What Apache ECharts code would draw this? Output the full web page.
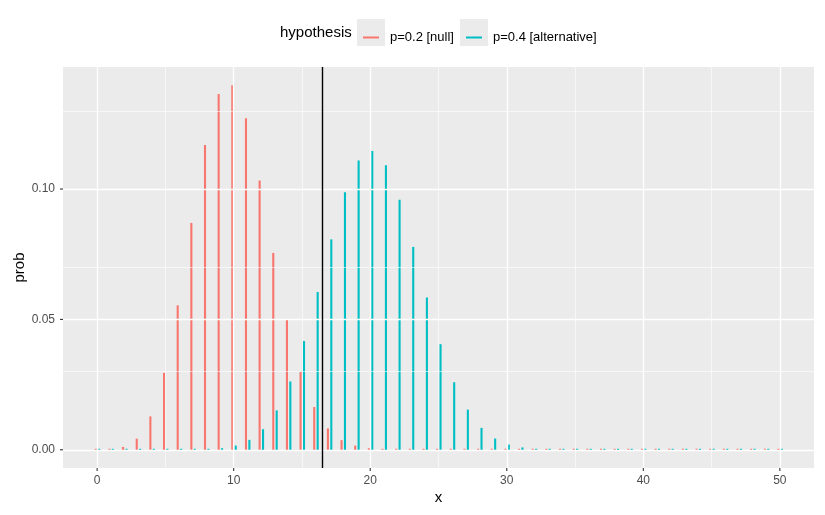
<!DOCTYPE html>
<html>
<head>
<meta charset="utf-8">
<script src="https://cdn.jsdelivr.net/npm/echarts@6/dist/echarts.min.js"></script>
<style>
html,body{margin:0;padding:0;background:#fff;}
#chart{width:825px;height:515px;}
</style>
</head>
<body>
<div id="chart"></div>
<script>
// ---- data ----
const xs = [0,1,2,3,4,5,6,7,8,9,10,11,12,13,14,15,16,17,18,19,20,21,22,23,24,25,26,27,28,29,30,31,32,33,34,35,36,37,38,39,40,41,42,43,44,45,46,47,48,49,50];
const probNull = [0.0000143,0.000178,0.00109,0.00428,0.0128,0.0295,0.0554,0.0870,0.1169,0.1364,0.1398,0.1271,0.1033,0.0755,0.0499,0.0299,0.0164,0.0082,0.0037,0.0016,0.0006,0.0002,0.00007,0.00002,0,0,0,0,0,0,0,0,0,0,0,0,0,0,0,0,0,0,0,0,0,0,0,0,0,0,0];
const probAlt = [0,0,0,0,0,0,0,0.00007,0.0002,0.0006,0.0016,0.0038,0.0079,0.0151,0.0262,0.0417,0.0605,0.0807,0.0988,0.1109,0.1146,0.1091,0.0959,0.0778,0.0584,0.0405,0.0259,0.0154,0.0084,0.0043,0.0020,0.0009,0.0003,0.0001,0.00004,0,0,0,0,0,0,0,0,0,0,0,0,0,0,0,0];
const seriesNames = ['p=0.2 [null]', 'p=0.4 [alternative]'];
const cutoff = 16.5;
const xTicks = [0,10,20,30,40,50];
const xMinor = [5,15,25,35,45];
const yTicks = [0,0.05,0.10];
const yMinor = [0.025,0.075,0.125];
const yTickLabels = ['0.00','0.05','0.10'];

// ---- styling ----
const colors = ['#F8766D', '#00BFC4'];
const dodge = [-0.1, 0.15];
const font = '"Liberation Sans", Arial, Helvetica, sans-serif';
const xMin = -2.5, xMax = 52.5, yMin = -0.00699, yMax = 0.1468;

function makeRender(k) {
  return function (params, api) {
    const x = api.value(0), y = api.value(1);
    const p0 = api.coord([x + dodge[k], 0]);
    const p1 = api.coord([x + dodge[k], y]);
    const w = 2.1;
    const top = Math.min(p1[1], p0[1] - 1);
    return {
      type: 'rect',
      shape: { x: p0[0] - w / 2, y: top, width: w, height: p0[1] + 1 - top },
      style: { fill: colors[k] }
    };
  };
}

// axis tick marks drawn through the axis scales
function tickRender(params, api) {
  const axis = api.value(0), v = api.value(1);
  let p, shape;
  if (axis === 0) {
    p = api.coord([v, yMin]);
    shape = { x1: p[0], y1: p[1], x2: p[0], y2: p[1] + 3 };
  } else {
    p = api.coord([xMin, v]);
    shape = { x1: p[0], y1: p[1], x2: p[0] - 3, y2: p[1] };
  }
  return { type: 'line', shape: shape, style: { stroke: '#333333', lineWidth: 1.1 } };
}
const tickData = xTicks.map(v => [0, v]).concat(yTicks.map(v => [1, v]));

const gridLines = [];
xTicks.forEach(v => gridLines.push({ xAxis: v, lineStyle: { width: 1.3 } }));
xMinor.forEach(v => gridLines.push({ xAxis: v, lineStyle: { width: 0.6 } }));
yTicks.forEach(v => gridLines.push({ yAxis: v, lineStyle: { width: 1.3 } }));
yMinor.forEach(v => gridLines.push({ yAxis: v, lineStyle: { width: 0.6 } }));

const chart = echarts.init(document.getElementById('chart'), null, { renderer: 'canvas' });
chart.setOption({
  animation: false,
  backgroundColor: '#ffffff',
  textStyle: { fontFamily: font },
  title: {
    text: 'hypothesis', left: 280, top: 25, padding: 0,
    textStyle: { fontFamily: font, fontSize: 15, fontWeight: 'normal', color: '#000000' }
  },
  legend: [
    {
      data: [seriesNames[0]], left: 363, top: 31, padding: 0,
      icon: 'path://M0,0 L16,0 L16,2 L0,2 Z', itemWidth: 16, itemHeight: 2,
      textStyle: { fontFamily: font, fontSize: 13, color: '#000000', padding: [0, 0, 0, 6] },
      selectedMode: false
    },
    {
      data: [seriesNames[1]], left: 466, top: 31, padding: 0,
      icon: 'path://M0,0 L16,0 L16,2 L0,2 Z', itemWidth: 16, itemHeight: 2,
      textStyle: { fontFamily: font, fontSize: 13, color: '#000000', padding: [0, 0, 0, 6] },
      selectedMode: false
    }
  ],
  graphic: [
    { type: 'rect', left: 357, top: 19, z: -1, shape: { width: 28, height: 27 }, style: { fill: '#EBEBEB' } },
    { type: 'rect', left: 460, top: 19, z: -1, shape: { width: 28, height: 27 }, style: { fill: '#EBEBEB' } }
  ],
  grid: {
    left: 63, right: 11, top: 67, bottom: 47,
    containLabel: false, outerBoundsMode: 'none',
    show: true, backgroundColor: '#EBEBEB', borderWidth: 0
  },
  xAxis: {
    type: 'value', min: xMin, max: xMax,
    name: 'x', nameLocation: 'middle', nameGap: 22, nameMoveOverlap: false,
    nameTextStyle: { fontFamily: font, fontSize: 15, color: '#000000' },
    axisLine: { show: false },
    splitLine: { show: false },
    axisTick: { show: false },
    axisLabel: { customValues: xTicks, color: '#4D4D4D', fontSize: 12, margin: 7, fontFamily: font }
  },
  yAxis: {
    type: 'value', min: yMin, max: yMax,
    name: 'prob', nameLocation: 'middle', nameGap: 36, nameRotate: 90, nameMoveOverlap: false,
    nameTextStyle: { fontFamily: font, fontSize: 15, color: '#000000' },
    axisLine: { show: false },
    splitLine: { show: false },
    axisTick: { show: false },
    axisLabel: {
      customValues: yTicks, color: '#4D4D4D', fontSize: 12, margin: 8, fontFamily: font,
      formatter: function (v) { const i = yTicks.indexOf(v); return i >= 0 ? yTickLabels[i] : v.toFixed(2); }
    }
  },
  series: [
    {
      type: 'line', name: 'grid', data: [], silent: true, z: 1,
      markLine: {
        silent: true, symbol: ['none', 'none'], label: { show: false },
        lineStyle: { color: '#FFFFFF', type: 'solid' },
        data: gridLines
      }
    },
    {
      type: 'custom', name: seriesNames[0], z: 3,
      itemStyle: { color: colors[0] },
      renderItem: makeRender(0),
      data: xs.map((x, i) => [x, probNull[i]])
    },
    {
      type: 'custom', name: seriesNames[1], z: 3,
      itemStyle: { color: colors[1] },
      renderItem: makeRender(1),
      data: xs.map((x, i) => [x, probAlt[i]])
    },
    {
      type: 'line', name: 'cutoff', data: [], silent: true, z: 5,
      markLine: {
        silent: true, symbol: ['none', 'none'], label: { show: false },
        lineStyle: { color: '#000000', type: 'solid', width: 1.4 },
        data: [{ xAxis: cutoff }]
      }
    },
    {
      type: 'custom', name: 'ticks', silent: true, clip: false, z: 5,
      renderItem: tickRender,
      encode: { x: -1, y: -1 },
      data: tickData
    }
  ]
});
</script>
</body>
</html>
